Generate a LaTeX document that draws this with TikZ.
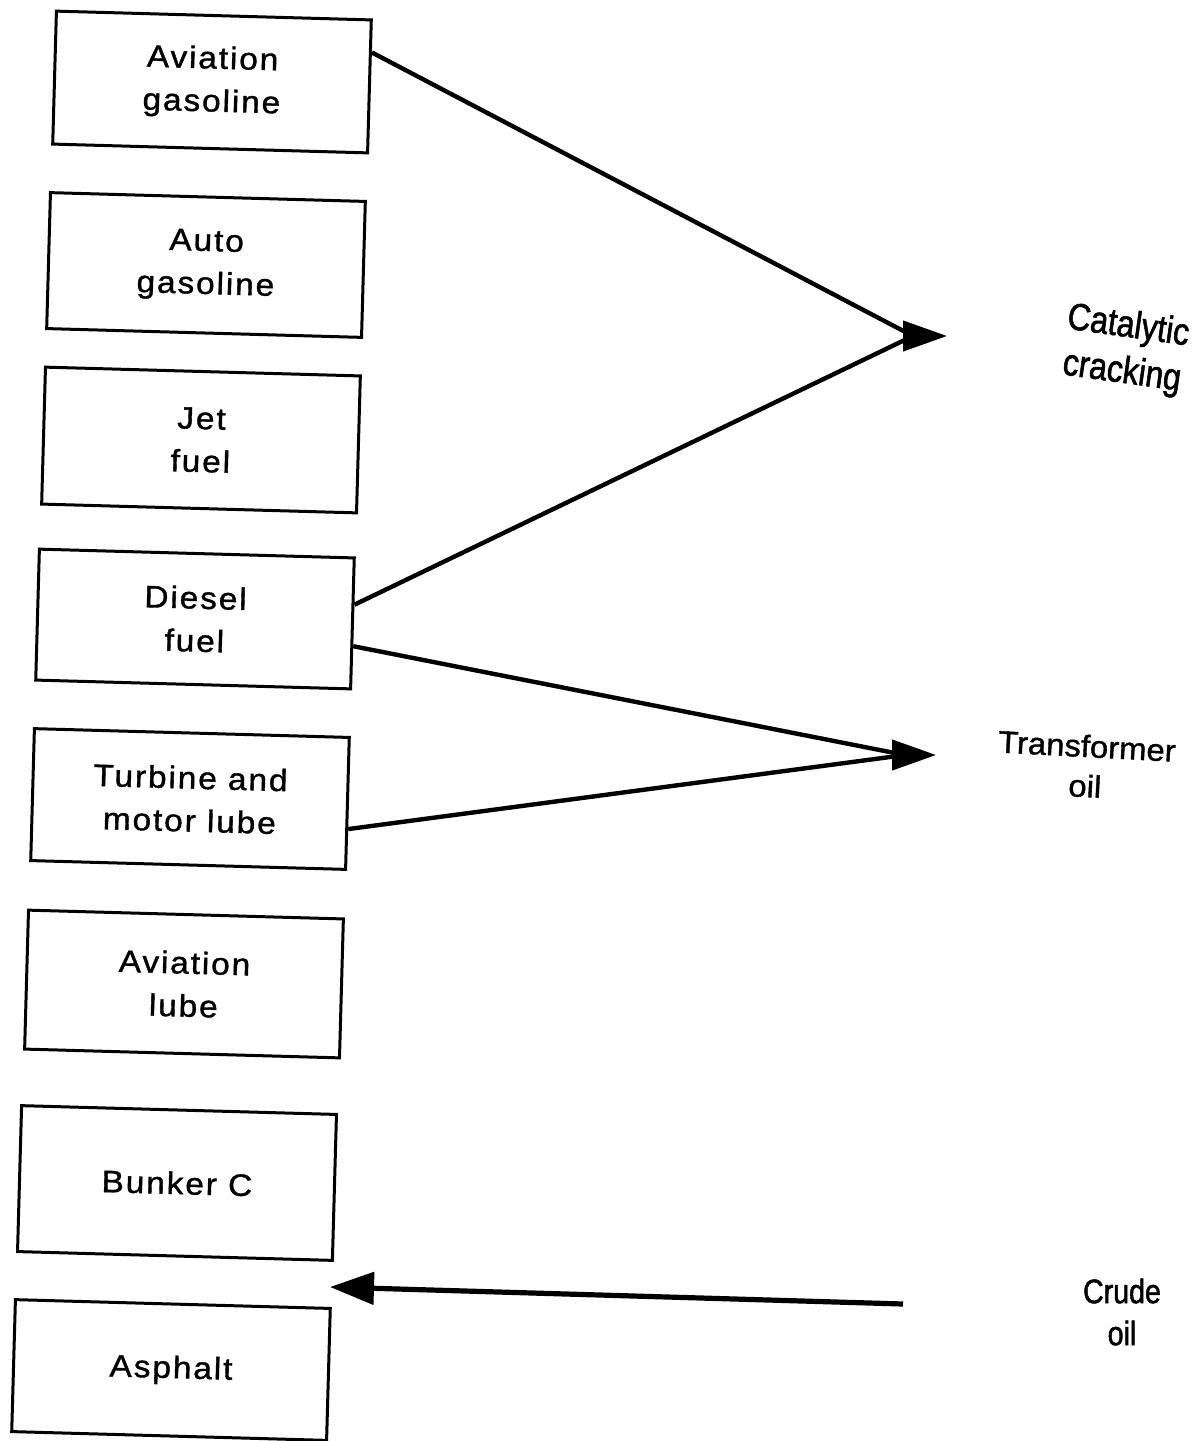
\documentclass[tikz,border=0pt]{standalone}
\usepackage{fontspec}
\setmainfont{Liberation Sans}
\newfontfamily\boxfont[FakeStretch=1.08,LetterSpace=6,FakeBold=1.2]{Liberation Sans}
\newfontfamily\narrowfont[FakeStretch=0.84,FakeBold=1.4]{Liberation Sans}
\newfontfamily\wideish[FakeStretch=1.06,FakeBold=1.2]{Liberation Sans}
\usetikzlibrary{arrows.meta,calc}

\begin{document}
\begin{tikzpicture}[x=0.5pt,y=-0.5pt,
  product/.style={draw, line width=1.5pt, rotate=-1.6, minimum width=157.5pt,
    align=center, font=\boxfont\fontsize{15.5}{21.5}\selectfont},
  flow/.style={line width=2.2pt},
  head/.style={-{Triangle[length=22pt,width=15pt]}, line width=2.2pt},
  outlabel/.style={align=center, inner sep=0pt},
]
\useasboundingbox (0,0) rectangle (1195,1441);

% product boxes
\node[product, minimum height=66.5pt] (avgas)   at (212,82)   {Aviation\\gasoline};
\node[product, minimum height=68pt]   (autogas) at (206,265)  {Auto\\gasoline};
\node[product, minimum height=68.5pt] (jet)     at (201,440)  {Jet\\fuel};
\node[product, minimum height=65.5pt] (diesel)  at (195,619)  {Diesel\\fuel};
\node[product, minimum height=66pt]   (turbine) at (190,799)  {Turbine and\\motor lube};
\node[product, minimum height=69.5pt] (avlube)  at (184,984)  {Aviation\\lube};
\node[product, minimum height=73pt]   (bunker)  at (177,1183) {Bunker C};
\node[product, minimum height=66pt]   (asphalt) at (171,1370) {Asphalt};

% process labels
\node[outlabel, rotate=-8, font=\narrowfont\fontsize{19}{23}\selectfont]
  (catcrack) at (1125,350) {Catalytic\\cracking};
\node[outlabel, rotate=-3, font=\wideish\fontsize{15.5}{20}\selectfont]
  (transoil) at (1086,766) {Transformer\\oil};
\node[outlabel, font=\narrowfont\fontsize{17}{21}\selectfont]
  (crude) at (1122,1312) {Crude\\oil};

% catalytic cracking
\coordinate (catj) at (913,336);
\coordinate (catb) at (903,336);
\coordinate (catt) at (947,336);
\draw[flow] ($(avgas.north east)!0.25!(avgas.south east)$) -- (catj);
\draw[flow] ($(diesel.north east)!0.36!(diesel.south east)$) -- (catj);
\draw[head] (catb) -- (catt);

% transformer oil
\coordinate (trj) at (905,755);
\coordinate (trb) at (891,755);
\coordinate (trt) at (936,755);
\draw[flow] ($(diesel.north east)!0.67!(diesel.south east)$) -- (trj);
\draw[flow] ($(turbine.north east)!0.69!(turbine.south east)$) -- (trj);
\draw[head] (trb) -- (trt);

% crude oil feed
\coordinate (crudetail) at (903,1304);
\coordinate (crudetip) at (330,1287);
\draw[head, line width=2.6pt, -{Triangle[length=22pt,width=16pt]}] (crudetail) -- (crudetip);
\end{tikzpicture}
\end{document}
